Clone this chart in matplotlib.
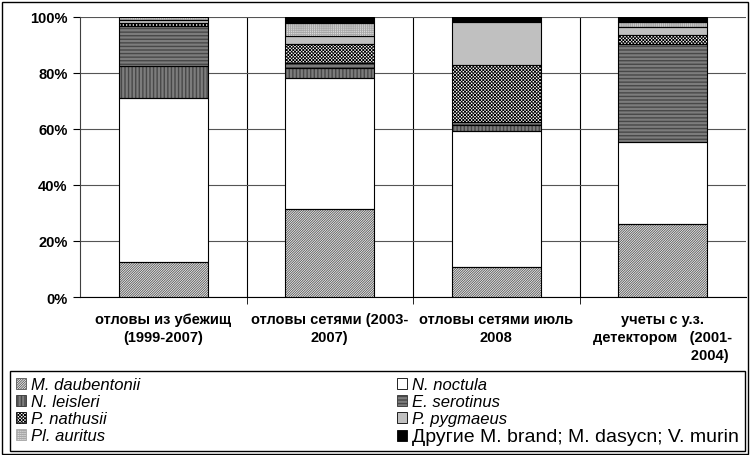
import numpy as np
import matplotlib
matplotlib.use('Agg')
import matplotlib.pyplot as plt
from matplotlib.patches import Patch, Rectangle

# данные (доли видов, %)
categories = ['отловы из убежищ\n(1999-2007)',
              'отловы сетями (2003-\n2007)',
              'отловы сетями июль\n2008',
              'учеты с у.з.\nдетектором   (2001-\n                       2004)']
species = ['M. daubentonii', 'N. noctula', 'N. leisleri', 'E. serotinus',
           'P. nathusii', 'P. pygmaeus', 'Pl. auritus',
           'Другие M. brand; M. dasycn; V. murin']
m_daubentonii = [12.5, 31.5, 10.7, 26.2]
n_noctula = [58.7, 46.8, 48.7, 29.2]
n_leisleri = [11.4, 3.6, 2.1, 0.0]
e_serotinus = [14.3, 1.5, 1.0, 34.8]
p_nathusii = [1.1, 7.0, 20.2, 3.3]
p_pygmaeus = [1.1, 2.8, 15.5, 2.8]
pl_auritus = [0.9, 4.6, 0.0, 1.9]
others = [0.0, 2.2, 1.8, 1.8]
yticks = [0, 20, 40, 60, 80, 100]

series = [m_daubentonii, n_noctula, n_leisleri, e_serotinus,
          p_nathusii, p_pygmaeus, pl_auritus, others]
# (заливка, штриховка, цвет штриховки)
styles = [('#f0f0f0', '/' * 14, '#555555'),
          ('white', None, 'black'),
          ('#b8b8b8', '|' * 12, '#333333'),
          ('#b8b8b8', '-' * 12, '#333333'),
          ('white', 'x' * 10, 'black'),
          ('#c0c0c0', None, 'black'),
          ('#e0e0e0', '+' * 8, '#a8a8a8'),
          ('black', None, 'black')]

plt.rcParams['font.family'] = ['Liberation Sans', 'DejaVu Sans']
plt.rcParams['hatch.linewidth'] = 0.6

fig = plt.figure(figsize=(7.5, 4.56), dpi=100)
ax = fig.add_axes([80 / 750, 1 - 298 / 456, 666 / 750, 280 / 456])

x = np.arange(len(categories))
bottom = np.zeros(len(categories))
w = 0.535
for vals, (face, hatch, hcol) in zip(series, styles):
    vals = np.array(vals)
    lw = [0.8 if v > 0 else 0 for v in vals]
    ax.bar(x, vals, w, bottom, color=face, edgecolor=hcol, hatch=hatch,
           linewidth=0, zorder=3)
    ax.bar(x, vals, w, bottom, fill=False, edgecolor='black',
           linewidth=lw, zorder=4)
    bottom += vals

ax.set_xlim(-0.5, 3.5)
ax.set_ylim(0, 100)
ax.set_yticks(yticks)
ax.set_yticklabels([f'{v}%' for v in yticks], fontsize=10.5, fontweight='bold')
ax.set_xticks(x)
ax.set_xticklabels(categories, fontsize=10.5, fontweight='bold', linespacing=1.35)
ax.set_xticks([0.5, 1.5, 2.5], minor=True)
ax.tick_params(axis='x', which='major', length=0, pad=11)
ax.tick_params(axis='x', which='minor', length=5, direction='out', color='black')
ax.tick_params(axis='y', length=5, direction='out', pad=4)
ax.yaxis.grid(True, color='#555555', linewidth=0.8)
ax.xaxis.grid(True, which='minor', color='black', linewidth=0.8)
ax.set_axisbelow(True)
for s in ['top', 'right']:
    ax.spines[s].set_visible(False)
ax.spines['left'].set_color('#404040')
ax.spines['bottom'].set_color('black')

# легенда в два столбца, по строкам
handles = []
for face, hatch, hcol in styles:
    try:
        h = Patch(facecolor=face, hatch=hatch, edgecolor='black',
                  hatchcolor=hcol, linewidth=0.6)
    except Exception:
        h = Patch(facecolor=face, hatch=hatch, edgecolor=hcol, linewidth=0.6)
    handles.append(h)
order = [0, 2, 4, 6, 1, 3, 5, 7]
leg = fig.legend([handles[i] for i in order], [species[i] for i in order],
                 ncol=2, loc='lower left',
                 bbox_to_anchor=(10 / 750, 4 / 456, 735 / 750, 80 / 456),
                 mode='expand', fontsize=12, frameon=True, fancybox=False,
                 framealpha=1, edgecolor='black', handlelength=0.6,
                 handleheight=0.6, handletextpad=0.3, labelspacing=0.12,
                 borderaxespad=0, borderpad=0.35)
leg.get_frame().set_linewidth(1)
for t in leg.get_texts():
    if t.get_text().startswith('Другие'):
        t.set_fontsize(14)
    else:
        t.set_style('italic')

fig.patches.append(Rectangle((2 / 750, 1 / 456), 746 / 750, 452 / 456,
                             transform=fig.transFigure, fill=False,
                             edgecolor='black', linewidth=1))

fig.savefig('out.png', dpi=100)
